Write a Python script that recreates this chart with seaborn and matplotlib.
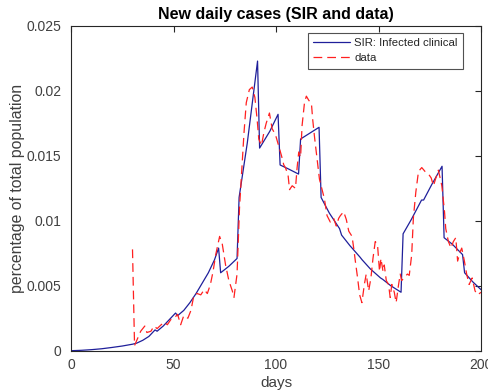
import matplotlib
matplotlib.use("Agg")
import matplotlib.pyplot as plt
import seaborn as sns
import pandas as pd

# SIR model: infected clinical (day, fraction of population)
sir_days = [0, 5, 10, 15, 20, 25, 30, 32, 35, 38, 41, 42, 45, 48, 51, 52, 55, 58, 61, 64,
            67, 70, 72, 73, 77, 81, 82, 86, 91, 92, 97, 101, 102, 106, 111, 112, 116, 121,
            122, 126, 131, 132, 136, 141, 142, 146, 151, 152, 156, 161, 162, 166, 171, 172,
            176, 181, 182, 186, 191, 192, 196, 200]
sir_vals = [0.0, 0.00003, 0.00008, 0.00015, 0.00025, 0.00036, 0.0005, 0.00058, 0.0008,
            0.0011, 0.0016, 0.0015, 0.0019, 0.0024, 0.0029, 0.0027, 0.0031, 0.0037, 0.0044,
            0.0052, 0.006, 0.007, 0.0079, 0.006, 0.0065, 0.0071, 0.0118, 0.016, 0.0223,
            0.0156, 0.0169, 0.0182, 0.0143, 0.014, 0.0136, 0.0163, 0.0167, 0.0172, 0.0118,
            0.0106, 0.0094, 0.0089, 0.0081, 0.0072, 0.007, 0.0063, 0.0056, 0.0055, 0.005,
            0.0045, 0.009, 0.0101, 0.0116, 0.0116, 0.0128, 0.0142, 0.0087, 0.0082, 0.0074,
            0.006, 0.0053, 0.0047]

# Observed data (day, fraction of population)
data_days = [30, 31, 34, 36, 37, 39, 40.5, 42, 44, 45.5, 47, 48.7, 50.3, 52, 53.5, 55, 57,
             58.5, 60, 61.6, 63.3, 65, 66.5, 68, 69.3, 70.6, 72.5, 73.8, 75.4, 77, 78.7, 79.5,
             81, 82.2, 83.5, 84.4, 85.5, 87, 88.4, 89.7, 90.8, 91.6, 92.9, 94.1, 95.2, 96.8,
             98.1, 99.8, 101.4, 102.7, 103.8, 104.6, 105.9, 106.6, 107.9, 109.5, 110.3,
             111.1, 112, 112.7, 113.9, 114.8, 115.9, 117.3, 117.9, 118.9, 120, 121.2, 122.5,
             123.6, 124.9, 126.5, 128.1, 129.4, 130.6, 131.4, 133, 134.3, 135.5, 137.1,
             137.9, 138.7, 139.8, 140.8, 141.9, 143.1, 144, 145.2, 146.3, 147.3, 148.4,
             149.5, 150.5, 151.2, 152.2, 152.8, 153.8, 154.9, 155.7, 156.5, 157.7, 158.6,
             159.8, 160.6, 161.3, 164.1, 165, 166.2, 167, 168.2, 169.5, 171.1, 172.7, 174.4,
             175.7, 176.8, 178, 179.2, 180.9, 182.2, 182.8, 184.1, 185.4, 186.5, 187.7,
             188.6, 189.8, 190.6, 191.9, 193, 194.2, 195.7, 197.1, 198.4, 200]
data_vals = [0.0078, 0.0004, 0.0015, 0.0019, 0.0014, 0.0015, 0.0019, 0.0017, 0.002, 0.0022,
             0.002, 0.0024, 0.0025, 0.0028, 0.002, 0.0027, 0.0025, 0.0031, 0.0043, 0.0044,
             0.0043, 0.0047, 0.0044, 0.0051, 0.0061, 0.0074, 0.0088, 0.0082, 0.0066, 0.0054,
             0.0046, 0.0041, 0.0059, 0.011, 0.0145, 0.0168, 0.0191, 0.0201, 0.0203, 0.0195,
             0.0178, 0.0163, 0.0158, 0.0168, 0.0175, 0.0183, 0.0171, 0.0166, 0.0157, 0.015,
             0.0143, 0.0141, 0.0135, 0.0124, 0.0127, 0.0125, 0.0141, 0.0153, 0.0149, 0.0173,
             0.0191, 0.0196, 0.0193, 0.019, 0.0178, 0.0163, 0.0148, 0.0132, 0.0124, 0.0117,
             0.0104, 0.0099, 0.0102, 0.0096, 0.0102, 0.0104, 0.0107, 0.0101, 0.0092, 0.0088,
             0.0079, 0.0069, 0.0056, 0.0043, 0.0037, 0.0051, 0.0059, 0.0046, 0.0056, 0.0071,
             0.0084, 0.0082, 0.0061, 0.0071, 0.0061, 0.0066, 0.0054, 0.0051, 0.0041, 0.0051,
             0.0045, 0.0037, 0.0051, 0.0059, 0.0054, 0.0059, 0.0058, 0.0074, 0.0102, 0.0122,
             0.0138, 0.0141, 0.0138, 0.0136, 0.0133, 0.0127, 0.0133, 0.0139, 0.0127, 0.0107,
             0.0094, 0.0084, 0.0079, 0.0084, 0.0087, 0.0069, 0.0076, 0.0079, 0.0069, 0.0059,
             0.0051, 0.0056, 0.0046, 0.0043, 0.0045]

x_ticks = [0, 50, 100, 150, 200]
y_ticks = [0, 0.005, 0.01, 0.015, 0.02, 0.025]
y_ticklabels = ["0", "0.005", "0.01", "0.015", "0.02", "0.025"]

sns.set_style("white")
plt.rcParams["font.family"] = ["Liberation Sans", "DejaVu Sans"]

fig = plt.figure(figsize=(4.89, 3.91), dpi=100)
ax = fig.add_axes([71 / 489, 1 - 350.7 / 391, (481 - 71) / 489, (350.7 - 26) / 391])

sir_df = pd.DataFrame({"day": sir_days, "value": sir_vals})
data_df = pd.DataFrame({"day": data_days, "value": data_vals})

sns.lineplot(data=sir_df, x="day", y="value", ax=ax, color="#1f1f9a", linewidth=0.9,
             label="SIR: Infected clinical", sort=False, estimator=None)
sns.lineplot(data=data_df, x="day", y="value", ax=ax, color="#ff2020", linewidth=0.9,
             dashes=False, label="data", sort=False, estimator=None)
ax.lines[1].set_linestyle((0, (7, 4)))

ax.set_xlim(0, 200)
ax.set_ylim(0, 0.025)
ax.set_xticks(x_ticks)
ax.set_xticklabels([str(t) for t in x_ticks])
ax.set_yticks(y_ticks)
ax.set_yticklabels(y_ticklabels)

gray = "#262626"
for sp in ax.spines.values():
    sp.set_visible(True)
    sp.set_color(gray)
    sp.set_linewidth(0.8)
ax.tick_params(direction="in", length=4, width=0.8, color=gray, labelcolor="#404040",
               labelsize=10, top=True, right=True)
ax.tick_params(axis="x", pad=5)
ax.tick_params(axis="y", pad=7)

ax.set_xlabel("days", fontsize=11, color="#404040", labelpad=3)
ax.set_ylabel("percentage of total population", fontsize=11.4, color="#404040",
              labelpad=1)
ax.set_title("New daily cases (SIR and data)", fontsize=11.5, fontweight="bold",
             color="black", pad=5)

leg = ax.legend(loc="upper right", bbox_to_anchor=(0.956, 0.978), borderaxespad=0,
                fontsize=8.2, frameon=True, fancybox=False, edgecolor="#262626",
                handlelength=3.3, borderpad=0.45, labelspacing=0.45, handletextpad=0.35)
leg.get_frame().set_linewidth(0.8)

fig.savefig("out.png", dpi=100)
